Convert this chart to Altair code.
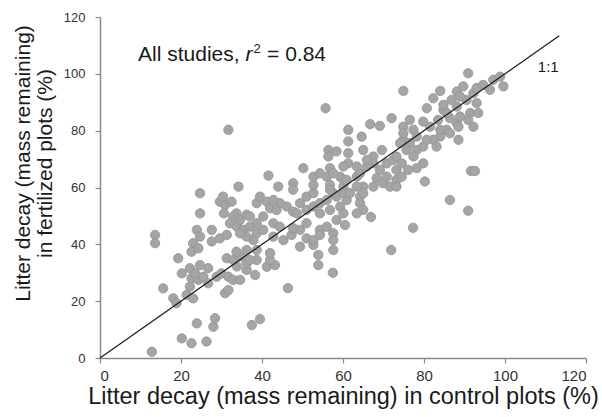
import altair as alt
import pandas as pd

# (control %, fertilized %) pairs, grouped by region
low_cluster = [
    (12.8, 2.2), (20.2, 6.9), (22.6, 5.2), (26.3, 5.8), (23.9, 12.2), (28.0, 11.0),
    (28.4, 14.0), (37.5, 11.6), (39.5, 13.7), (15.6, 24.5), (18.1, 21.0), (18.9, 19.3),
    (21.4, 22.2), (22.2, 25.1), (23.0, 21.0), (22.6, 28.1), (24.3, 27.5), (25.5, 28.6),
    (26.7, 31.6), (24.7, 32.7), (22.2, 31.6), (20.2, 29.8), (23.5, 29.8), (19.3, 35.1),
    (28.8, 28.6), (30.0, 29.8), (31.7, 28.6), (32.9, 27.5), (34.6, 27.5), (30.9, 22.8),
    (31.7, 23.9), (26.7, 26.3), (38.3, 29.2), (36.2, 31.0), (33.8, 32.2), (36.2, 33.3),
    (41.2, 32.1), (43.2, 32.7), (42.0, 34.5), (38.7, 34.5), (46.4, 24.6), (57.5, 30.0),
]
left_cluster = [
    (13.6, 43.3), (13.6, 40.4), (24.7, 58.0), (24.7, 50.9), (34.2, 60.3), (23.9, 45.1),
    (24.7, 42.7), (23.0, 40.4), (22.6, 37.4), (24.3, 38.6), (27.6, 45.1), (27.6, 41.0),
    (29.6, 42.1), (31.3, 43.3), (29.6, 55.0), (30.4, 56.8), (30.9, 53.9), (32.5, 55.0),
    (30.6, 50.9), (33.7, 50.9), (32.1, 47.4), (32.9, 49.8), (33.8, 46.2), (34.6, 48.6),
    (35.4, 45.1), (36.2, 50.4), (31.3, 35.1), (32.9, 34.5), (34.6, 35.7), (33.7, 37.4),
    (36.2, 38.0), (37.0, 34.5), (38.7, 38.0), (37.9, 41.5), (36.2, 42.7), (38.7, 47.4),
    (37.0, 49.8), (34.6, 43.9), (37.0, 46.2), (38.7, 43.9), (40.3, 45.1), (42.0, 36.9),
    (40.3, 49.8), (38.7, 54.5), (39.5, 56.8), (41.2, 55.0), (42.0, 52.7),
]
center_cluster = [
    (42.8, 47.4), (44.4, 46.2), (45.3, 41.5), (47.3, 43.3), (49.4, 45.1), (51.0, 47.4),
    (44.4, 54.5), (46.1, 53.3), (47.7, 51.5), (49.4, 54.5), (51.0, 56.8), (52.7, 58.0),
    (49.4, 39.2), (52.7, 39.8), (51.0, 42.1), (54.3, 45.1), (56.0, 46.2), (57.6, 43.9),
    (54.3, 50.9), (56.8, 52.1), (59.3, 53.3), (60.9, 55.6), (57.6, 58.0), (60.1, 60.3),
    (47.7, 61.5), (52.7, 60.9), (56.8, 60.9), (41.6, 64.2), (44.0, 60.3), (47.7, 59.2),
    (50.2, 66.8), (52.7, 63.8), (54.3, 65.0), (56.8, 66.8), (59.3, 63.8), (56.4, 73.2),
    (56.4, 70.9), (42.8, 55.6), (51.0, 52.1), (52.7, 53.3), (54.3, 54.5), (56.0, 55.6),
    (58.4, 56.8), (60.1, 58.0), (43.6, 52.1), (48.6, 50.9), (47.7, 45.7), (58.4, 48.6),
    (60.5, 46.8), (42.8, 42.7), (52.7, 41.5), (54.3, 43.3), (57.6, 41.5), (53.9, 36.3),
    (57.6, 38.0), (53.9, 32.7), (56.0, 63.8), (60.1, 62.7), (56.8, 59.2),
]
upper_cluster = [
    (55.7, 87.9), (61.3, 80.3), (61.3, 76.2), (61.3, 72.1), (61.3, 68.5), (60.9, 62.7),
    (63.4, 63.8), (61.7, 58.0), (65.0, 60.3), (64.2, 56.8), (68.3, 63.3), (69.9, 61.5),
    (71.6, 60.3), (73.2, 62.7), (67.5, 60.3), (64.6, 77.9), (65.0, 73.2), (67.5, 70.9),
    (69.6, 73.2), (70.8, 68.5), (72.4, 69.7), (73.2, 66.2), (74.5, 63.8), (70.8, 63.8),
    (69.1, 66.2), (67.5, 68.5), (65.9, 67.4), (64.2, 65.0), (60.1, 67.4), (66.7, 82.3),
    (69.1, 81.7), (72.0, 84.4), (74.9, 81.4), (76.5, 83.8), (77.4, 80.3), (78.2, 77.9),
    (74.9, 76.8), (76.5, 75.6), (75.7, 73.2), (78.2, 73.2), (77.4, 70.9), (79.8, 68.5),
    (80.2, 62.1), (80.7, 87.9), (84.8, 87.3), (86.4, 84.4), (88.1, 82.6), (85.6, 80.3),
    (84.0, 77.9), (81.5, 81.4), (79.8, 83.2), (88.5, 76.8), (86.4, 79.1), (86.8, 90.8),
    (88.1, 88.5), (90.5, 90.8), (93.0, 89.7), (91.4, 86.2), (90.9, 83.8), (88.9, 85.0),
    (84.0, 94.0), (82.3, 91.4), (88.1, 93.8), (89.7, 95.6), (92.2, 93.2), (93.0, 95.0),
    (94.6, 96.1), (97.1, 97.9), (98.8, 99.0), (99.6, 95.6), (96.3, 94.4), (90.9, 100.2),
    (88.9, 92.0), (93.4, 86.2), (83.5, 83.8), (88.5, 81.4), (84.0, 80.3), (82.3, 76.8),
    (83.1, 74.4), (92.2, 81.4), (84.8, 89.1), (85.6, 86.2), (74.9, 79.1), (74.1, 75.6),
    (79.8, 74.4), (80.7, 76.8), (78.2, 66.8), (76.1, 66.2), (74.5, 68.5), (73.2, 70.9),
    (73.2, 60.3), (58.4, 72.7), (57.6, 65.0), (63.4, 67.4), (65.9, 69.7), (63.4, 60.3),
    (65.0, 58.0), (64.2, 54.5), (65.0, 52.1), (60.1, 50.9), (63.4, 50.9), (74.9, 94.0),
]
outliers = [
    (31.7, 80.3), (66.9, 49.6), (71.9, 38.0), (77.3, 45.8), (86.4, 55.6), (90.9, 51.8),
    (91.6, 65.8), (92.6, 65.8),
]

x_ticks = [0, 20, 40, 60, 80, 100, 120]
y_ticks = [0, 20, 40, 60, 80, 100, 120]
one_to_one = [0, 113.4]

groups = [low_cluster, left_cluster, center_cluster, upper_cluster, outliers]
df = pd.DataFrame(
    [{"control": c, "fertilized": f} for g in groups for (c, f) in g]
)
line_df = pd.DataFrame({"control": one_to_one, "fertilized": one_to_one})

FONT = "Liberation Sans"
x_scale = alt.Scale(domain=[0, 120], nice=False, zero=True)
y_scale = alt.Scale(domain=[0, 120], nice=False, zero=True)

points = alt.Chart(df).mark_circle(
    size=88, color="#a5a5a5", opacity=1, stroke="#939393", strokeWidth=0.8
).encode(
    x=alt.X(
        "control:Q", scale=x_scale,
        axis=alt.Axis(
            values=x_ticks, title="Litter decay (mass remaining) in control plots (%)",
            labelFontSize=15, titleFontSize=23.5, labelPadding=5, titlePadding=1,
        ),
    ),
    y=alt.Y(
        "fertilized:Q", scale=y_scale,
        axis=alt.Axis(
            values=y_ticks,
            title=["Litter decay (mass remaining)", "in fertilized plots (%)"],
            labelFontSize=13, titleFontSize=21, labelPadding=10,
            titleX=-67, titleY=146, titleLineHeight=22,
        ),
    ),
)

line = alt.Chart(line_df).mark_line(color="#1e1e1e", strokeWidth=1.3).encode(
    x=alt.X("control:Q", scale=x_scale), y=alt.Y("fertilized:Q", scale=y_scale)
)

anno_df = pd.DataFrame({"x": [9.4], "y": [104.6]})
base_txt = alt.Chart(anno_df).encode(x=alt.X("x:Q", scale=x_scale), y=alt.Y("y:Q", scale=y_scale))
t1 = base_txt.mark_text(text="All studies,", align="left", baseline="alphabetic",
                        fontSize=21, font=FONT, color="#1a1a1a")
t2 = base_txt.mark_text(text="r", align="left", baseline="alphabetic", fontSize=21,
                        font=FONT, fontStyle="italic", color="#1a1a1a", dx=107.5)
t3 = base_txt.mark_text(text="2", align="left", baseline="alphabetic", fontSize=13,
                        font=FONT, color="#1a1a1a", dx=115.5, dy=-8)
t4 = base_txt.mark_text(text="= 0.84", align="left", baseline="alphabetic",
                        fontSize=21, font=FONT, color="#1a1a1a", dx=129)

one_df = pd.DataFrame({"x": [108.1], "y": [100.5]})
t_one = alt.Chart(one_df).mark_text(
    text="1:1", align="left", baseline="alphabetic", fontSize=15, font=FONT, color="#1a1a1a"
).encode(x=alt.X("x:Q", scale=x_scale), y=alt.Y("y:Q", scale=y_scale))

chart = alt.layer(points, line, t1, t2, t3, t4, t_one).properties(
    width=486, height=341,
    autosize=alt.AutoSizeParams(type="none"),
    padding={"left": 100, "top": 17, "right": 16, "bottom": 59},
).configure_view(stroke=None).configure_axis(
    grid=False, domainColor="#8a8a8a", domainWidth=1.5, tickColor="#8a8a8a",
    tickSize=5, tickWidth=1.2, labelColor="#333333", titleColor="#1a1a1a",
    labelFont=FONT, titleFont=FONT, titleFontWeight="normal",
)

chart.save("out.html", embed_options={"renderer": "svg", "actions": False})
